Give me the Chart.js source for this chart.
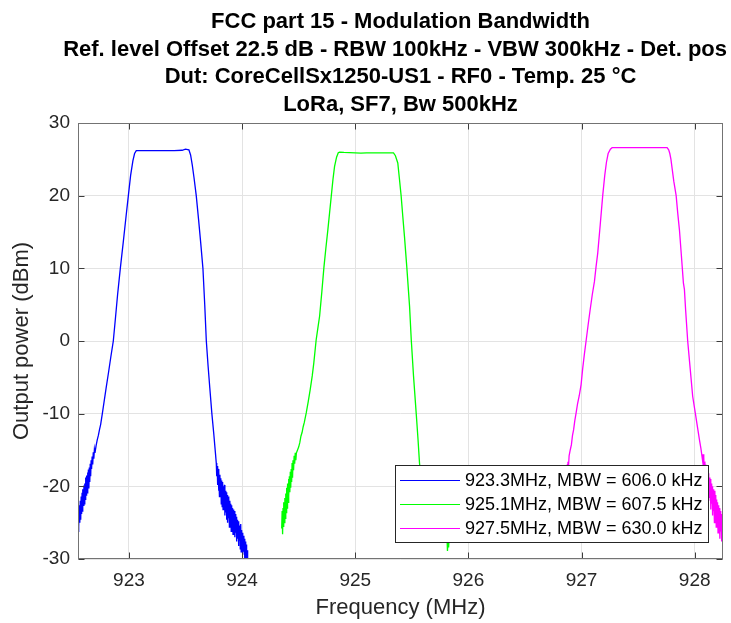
<!DOCTYPE html>
<html>
<head>
<meta charset="utf-8">
<title>FCC part 15 - Modulation Bandwidth</title>
<script src="https://cdn.jsdelivr.net/npm/chart.js@4.4.1/dist/chart.umd.min.js"></script>
<style>
  html, body { margin: 0; padding: 0; background: #ffffff; }
  canvas { display: block; }
</style>
</head>
<body>
<canvas id="mbwChart" width="731" height="623"></canvas>
<script>
// --- titles / labels ---
const titleLines = [
  'FCC part 15 - Modulation Bandwidth',
  'Ref. level Offset 22.5 dB - RBW 100kHz - VBW 300kHz - Det. pos',
  'Dut: CoreCellSx1250-US1 - RF0 - Temp. 25 °C',
  'LoRa, SF7, Bw 500kHz'
];
const xAxisTitle = 'Frequency (MHz)';
const yAxisTitle = 'Output power (dBm)';
const seriesLabels = [
  '923.3MHz, MBW = 606.0 kHz',
  '925.1MHz, MBW = 607.5 kHz',
  '927.5MHz, MBW = 630.0 kHz'
];
const seriesColors = ['#0000ff', '#00ff00', '#ff00ff'];

// axis ranges / ticks
const xRange = [922.55, 928.25];
const xTickValues = [923, 924, 925, 926, 927, 928];
const yRange = [-30, 30];
const yTickValues = [-30, -20, -10, 0, 10, 20, 30];

// --- traces ---
const blueFreq = [
  922.550, 922.554, 922.558, 922.562, 922.566, 922.570, 922.574, 922.578, 922.582, 922.586,
  922.590, 922.594, 922.598, 922.602, 922.606, 922.610, 922.614, 922.618, 922.622, 922.626,
  922.630, 922.634, 922.638, 922.642, 922.646, 922.650, 922.654, 922.658, 922.662, 922.666,
  922.670, 922.675, 922.680, 922.685, 922.690, 922.695, 922.700, 922.710, 922.720, 922.730,
  922.740, 922.750, 922.765, 922.780, 922.800, 922.820, 922.840, 922.862, 922.880, 922.900,
  922.924, 922.950, 922.975, 922.995, 923.015, 923.035, 923.050, 923.065, 923.100, 923.200,
  923.300, 923.400, 923.470, 923.500, 923.520, 923.530, 923.545, 923.560, 923.575, 923.595,
  923.615, 923.635, 923.654, 923.670, 923.684, 923.700, 923.715, 923.733, 923.750, 923.765,
  923.772, 923.776, 923.780, 923.784, 923.788, 923.792, 923.796, 923.800, 923.804, 923.808,
  923.812, 923.816, 923.820, 923.824, 923.828, 923.832, 923.836, 923.840, 923.844, 923.848,
  923.852, 923.856, 923.860, 923.864, 923.868, 923.872, 923.876, 923.880, 923.884, 923.888,
  923.892, 923.896, 923.900, 923.904, 923.908, 923.912, 923.916, 923.920, 923.924, 923.928,
  923.932, 923.936, 923.940, 923.944, 923.948, 923.952, 923.956, 923.960, 923.964, 923.968,
  923.972, 923.976, 923.980, 923.984, 923.988, 923.992, 923.996, 924.000, 924.004, 924.008,
  924.012, 924.016, 924.020, 924.024, 924.028, 924.032, 924.036, 924.040, 924.044, 924.048,
  924.050
];
const bluePower = [
  -26.2, -23.4, -25.6, -22.6, -25.0, -22.0, -24.6, -21.4, -23.8, -20.9,
  -23.5, -20.4, -22.6, -19.9, -22.4, -19.6, -21.8, -18.8, -21.2, -18.5,
  -20.9, -18.1, -20.6, -17.7, -20.3, -17.4, -19.4, -16.9, -18.6, -16.4,
  -17.6, -15.9, -17.0, -15.3, -16.2, -14.9, -15.4, -14.4, -13.6, -13.0,
  -12.2, -11.5, -10.0, -8.4, -6.3, -4.3, -2.2, 0.0, 3.0, 6.4,
  10.0, 13.6, 17.2, 20.0, 22.8, 24.8, 25.8, 26.2, 26.2, 26.2,
  26.2, 26.2, 26.25, 26.4, 26.35, 26.3, 25.6, 24.2, 22.5, 20.0,
  16.8, 13.4, 10.0, 5.0, 0.0, -3.5, -6.5, -10.0, -12.8, -15.5,
  -16.8, -18.6, -17.2, -19.8, -17.6, -20.6, -18.0, -21.4, -18.4, -21.0,
  -18.9, -22.4, -19.2, -22.8, -19.4, -23.2, -20.0, -22.6, -19.8, -24.0,
  -20.6, -23.6, -20.8, -24.6, -21.2, -25.0, -21.6, -24.4, -21.4, -25.6,
  -22.0, -25.2, -22.4, -26.2, -22.6, -25.8, -23.0, -26.6, -23.2, -26.0,
  -23.4, -27.0, -23.8, -26.4, -24.2, -27.6, -24.6, -27.2, -24.8, -28.2,
  -25.0, -27.4, -25.4, -28.6, -25.2, -29.0, -26.0, -28.4, -26.4, -29.4,
  -26.8, -29.0, -27.2, -30.2, -27.6, -30.4, -28.0, -31.0, -28.8, -31.2,
  -30.6
];

const greenFreq = [
  924.350, 924.354, 924.358, 924.362, 924.366, 924.370, 924.374, 924.378, 924.382, 924.386,
  924.390, 924.394, 924.398, 924.402, 924.406, 924.410, 924.414, 924.418, 924.422, 924.426,
  924.430, 924.434, 924.438, 924.442, 924.446, 924.450, 924.455, 924.460, 924.465, 924.470,
  924.475, 924.480, 924.490, 924.500, 924.510, 924.520, 924.530, 924.540, 924.550, 924.567,
  924.585, 924.602, 924.620, 924.634, 924.655, 924.670, 924.685, 924.705, 924.723, 924.740,
  924.758, 924.773, 924.788, 924.803, 924.817, 924.835, 924.850, 924.862, 924.900, 925.000,
  925.050, 925.100, 925.200, 925.300, 925.338, 925.355, 925.376, 925.390, 925.406, 925.420,
  925.435, 925.456, 925.480, 925.495, 925.515, 925.539, 925.555, 925.568, 925.585, 925.600,
  925.620, 925.640, 925.660, 925.680, 925.700, 925.720, 925.740, 925.760, 925.780, 925.800,
  925.810, 925.815, 925.820, 925.825, 925.830, 925.835, 925.840, 925.850
];
const greenPower = [
  -25.8, -23.4, -26.6, -23.0, -25.6, -22.2, -25.0, -21.6, -24.4, -21.0,
  -23.6, -20.2, -23.0, -19.6, -22.2, -19.0, -21.4, -18.6, -20.8, -18.0,
  -20.2, -17.6, -19.4, -16.8, -18.8, -16.4, -17.8, -15.8, -16.9, -15.4,
  -16.4, -15.4, -15.0, -14.6, -14.0, -13.1, -12.6, -11.8, -11.2, -9.9,
  -8.3, -6.7, -4.8, -3.0, 0.2, 1.8, 3.4, 6.8, 10.1, 12.7,
  15.3, 17.6, 19.9, 22.2, 24.0, 25.3, 25.9, 26.0, 25.95, 25.9,
  25.85, 25.9, 25.9, 25.9, 25.9, 25.5, 24.5, 22.4, 19.9, 17.2,
  14.4, 10.1, 4.8, 0.2, -4.8, -10.0, -13.6, -16.8, -19.8, -21.5,
  -22.8, -24.0, -23.5, -25.4, -24.6, -26.2, -25.0, -26.8, -25.8, -26.9,
  -26.5, -28.9, -27.5, -28.4, -26.9, -27.6, -26.5, -26.8
];

const magentaFreq = [
  926.750, 926.770, 926.790, 926.810, 926.830, 926.850, 926.865, 926.875, 926.880, 926.885,
  926.890, 926.900, 926.910, 926.920, 926.930, 926.940, 926.952, 926.965, 926.980, 926.996,
  927.010, 927.025, 927.040, 927.058, 927.076, 927.095, 927.114, 927.128, 927.143, 927.165,
  927.187, 927.205, 927.220, 927.235, 927.255, 927.270, 927.350, 927.450, 927.550, 927.650,
  927.756, 927.770, 927.780, 927.790, 927.800, 927.815, 927.836, 927.850, 927.865, 927.882,
  927.900, 927.909, 927.920, 927.938, 927.960, 927.982, 928.006, 928.020, 928.030, 928.042,
  928.055, 928.070, 928.074, 928.078, 928.082, 928.086, 928.090, 928.094, 928.098, 928.102,
  928.106, 928.110, 928.114, 928.118, 928.122, 928.126, 928.130, 928.134, 928.138, 928.142,
  928.146, 928.150, 928.154, 928.158, 928.162, 928.166, 928.170, 928.174, 928.178, 928.182,
  928.186, 928.190, 928.194, 928.198, 928.202, 928.206, 928.210, 928.214, 928.218, 928.222,
  928.226, 928.230, 928.234, 928.238, 928.242, 928.246, 928.250
];
const magentaPower = [
  -26.0, -25.0, -24.0, -22.5, -21.0, -19.5, -18.0, -17.0, -16.6, -17.2,
  -15.8, -15.0, -14.3, -13.0, -12.2, -11.0, -9.9, -8.6, -7.5, -6.0,
  -3.8, -1.8, 0.0, 2.2, 4.3, 6.4, 8.2, 10.2, 12.1, 16.0,
  20.0, 22.8, 24.6, 25.8, 26.4, 26.6, 26.6, 26.6, 26.6, 26.6,
  26.6, 26.3, 25.8, 25.0, 23.8, 22.0, 20.0, 17.6, 15.3, 11.8,
  8.0, 7.1, 4.2, 0.0, -3.8, -7.6, -10.0, -11.4, -12.4, -13.6,
  -14.8, -16.5, -15.6, -17.8, -16.0, -18.6, -16.6, -19.4, -17.0, -19.0,
  -17.4, -20.4, -17.8, -21.0, -18.2, -22.0, -18.8, -21.6, -19.0, -23.2,
  -19.6, -22.4, -20.0, -24.0, -20.4, -23.4, -21.0, -25.0, -20.6, -23.8,
  -21.2, -25.6, -21.8, -24.6, -22.2, -26.4, -22.6, -25.6, -23.0, -27.2,
  -23.4, -26.2, -23.8, -27.6, -24.2, -26.8, -25.4
];

const FONT = "'Liberation Sans', Arial, Helvetica, sans-serif";
const TEXT_COLOR = '#262626';

function toPoints(freqs, powers) {
  return freqs.map((f, i) => ({ x: f, y: powers[i] }));
}

// title block: centred over the plot area, pushed in if it would run off the right edge
const titleBlock = {
  id: 'titleBlock',
  afterDraw(chart) {
    const { ctx, chartArea } = chart;
    const cx = (chartArea.left + chartArea.right) / 2;
    ctx.save();
    ctx.font = 'bold 22px ' + FONT;
    ctx.fillStyle = '#000000';
    ctx.textAlign = 'center';
    ctx.textBaseline = 'middle';
    titleLines.forEach((line, i) => {
      const w = ctx.measureText(line).width;
      let x = cx;
      if (x + w / 2 > chart.width - 4) x = chart.width - 4 - w / 2;
      ctx.fillText(line, x, 22 + i * 27.5);
    });
    ctx.restore();
  }
};

// MATLAB-ish box with inward tick marks
const axesBox = {
  id: 'axesBox',
  afterDatasetsDraw(chart) {
    const { ctx, chartArea: a, scales: { x, y } } = chart;
    const L = Math.round(a.left) + 0.5, R = Math.round(a.right) - 0.5;
    const T = Math.round(a.top) + 0.5, B = Math.round(a.bottom) - 0.5;
    ctx.save();
    ctx.lineWidth = 1;
    ctx.strokeStyle = '#3c3c3c';
    ctx.beginPath();
    x.ticks.forEach(t => {
      const px = Math.round(x.getPixelForValue(t.value)) + 0.5;
      ctx.moveTo(px, B); ctx.lineTo(px, B - 6);
      ctx.moveTo(px, T); ctx.lineTo(px, T + 6);
    });
    y.ticks.forEach(t => {
      const py = Math.round(y.getPixelForValue(t.value)) + 0.5;
      ctx.moveTo(L, py); ctx.lineTo(L + 6, py);
      ctx.moveTo(R, py); ctx.lineTo(R - 6, py);
    });
    ctx.stroke();
    ctx.strokeStyle = '#737373';
    ctx.strokeRect(L, T, R - L, B - T);
    ctx.restore();
  }
};

// legend box in the lower right corner of the axes
const cornerLegend = {
  id: 'cornerLegend',
  afterDraw(chart) {
    const { ctx, chartArea: a } = chart;
    const right = a.right - 15, bottom = a.bottom - 17;
    const boxW = 313, boxH = 77, rowH = 23.8;
    const left = right - boxW, top = bottom - boxH;
    ctx.save();
    ctx.fillStyle = '#ffffff';
    ctx.fillRect(left, top, boxW, boxH);
    ctx.strokeStyle = '#262626';
    ctx.lineWidth = 1;
    ctx.strokeRect(Math.round(left) + 0.5, Math.round(top) + 0.5, Math.round(boxW), Math.round(boxH));
    ctx.font = '18px ' + FONT;
    ctx.textBaseline = 'middle';
    ctx.textAlign = 'left';
    chart.data.datasets.forEach((ds, i) => {
      const cy = Math.round(top + 15 + i * rowH) + 0.5;
      ctx.strokeStyle = ds.borderColor;
      ctx.beginPath();
      ctx.moveTo(left + 5, cy);
      ctx.lineTo(left + 65, cy);
      ctx.stroke();
      ctx.fillStyle = '#000000';
      ctx.fillText(ds.label, left + 70, cy + 1);
    });
    ctx.restore();
  }
};

const datasets = [
  { label: seriesLabels[0], data: toPoints(blueFreq, bluePower), borderColor: seriesColors[0] },
  { label: seriesLabels[1], data: toPoints(greenFreq, greenPower), borderColor: seriesColors[1] },
  { label: seriesLabels[2], data: toPoints(magentaFreq, magentaPower), borderColor: seriesColors[2] }
].map(d => Object.assign(d, {
  showLine: true,
  borderWidth: 1.3,
  pointRadius: 0,
  tension: 0,
  fill: false
}));

new Chart(document.getElementById('mbwChart'), {
  type: 'scatter',
  data: { datasets },
  options: {
    responsive: false,
    animation: false,
    layout: { padding: { top: 123, right: 8, bottom: 0, left: 0 } },
    plugins: {
      legend: { display: false },
      tooltip: { enabled: false },
      title: { display: false }
    },
    scales: {
      x: {
        type: 'linear',
        min: xRange[0],
        max: xRange[1],
        afterFit(scale) { scale.height = 64; },
        afterBuildTicks(scale) { scale.ticks = xTickValues.map(v => ({ value: v })); },
        ticks: {
          font: { family: FONT, size: 19 },
          color: TEXT_COLOR,
          padding: 10,
          callback: v => String(v)
        },
        grid: { color: '#e3e3e3', drawTicks: false },
        border: { display: false },
        title: {
          display: true,
          text: xAxisTitle,
          font: { family: FONT, size: 22 },
          color: TEXT_COLOR,
          padding: { top: 0, bottom: 2 }
        }
      },
      y: {
        type: 'linear',
        min: yRange[0],
        max: yRange[1],
        afterFit(scale) { scale.width = 78; },
        afterBuildTicks(scale) { scale.ticks = yTickValues.map(v => ({ value: v })); },
        ticks: {
          font: { family: FONT, size: 19 },
          color: TEXT_COLOR,
          padding: 8,
          callback: v => String(v)
        },
        grid: { color: '#e3e3e3', drawTicks: false },
        border: { display: false },
        title: {
          display: true,
          text: yAxisTitle,
          font: { family: FONT, size: 22 },
          color: TEXT_COLOR,
          padding: { top: 9, bottom: 0 }
        }
      }
    }
  },
  plugins: [titleBlock, axesBox, cornerLegend]
});
</script>
</body>
</html>
